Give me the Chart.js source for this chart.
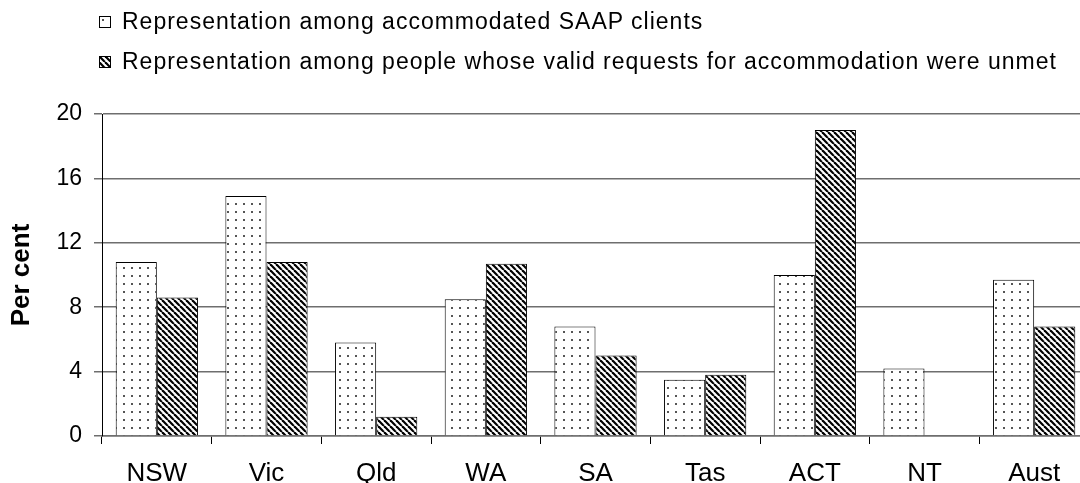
<!DOCTYPE html>
<html lang="en">
<head>
  <meta charset="UTF-8">
  <title>SAAP representation by jurisdiction</title>
  <script src="https://cdn.jsdelivr.net/npm/chart.js"></script>
  <style>
    html, body {
      margin: 0;
      padding: 0;
      background: #fff;
      overflow: hidden;
      width: 1080px;
      height: 483px;
    }
    body {
      position: relative;
      font-family: 'Liberation Sans', Arial, sans-serif;
    }
    #chart {
      position: absolute;
      left: 0;
      top: 0;
    }
    .legend-row {
      position: absolute;
      left: 99px;
      display: flex;
      align-items: center;
      font-size: 23px;
      line-height: 27px;
      letter-spacing: 1px;
      color: #000;
      white-space: nowrap;
    }
    .legend-row canvas {
      margin-right: 11px;
    }
  </style>
</head>
<body>
  <canvas id="chart" width="1092" height="483"></canvas>

  <!-- Legend (two rows, like the original) -->
  <div class="legend-row" style="top: 8px;"><canvas id="box0" width="12" height="12"></canvas><span id="lab0"></span></div>
  <div class="legend-row" style="top: 48px;"><canvas id="box1" width="12" height="12"></canvas><span id="lab1"></span></div>

  <script>
    // Data
    const states = ['NSW', 'Vic', 'Qld', 'WA', 'SA', 'Tas', 'ACT', 'NT', 'Aust'];
    const seriesNames = [
      'Representation among accommodated SAAP clients',
      'Representation among people whose valid requests for accommodation were unmet'
    ];
    const accommodated = [10.8, 14.9, 5.8, 8.5, 6.8, 3.5, 10.0, 4.2, 9.7];
    const unmet = [8.6, 10.8, 1.2, 10.7, 5.0, 3.8, 19.0, null, 6.8];
    const yTicks = [0, 4, 8, 12, 16, 20];

    Chart.defaults.font.family = "'Liberation Sans', Arial, sans-serif";
    Chart.defaults.color = '#000';

    // Fill patterns
    function dotPattern(ctx) {
      const c = document.createElement('canvas');
      c.width = 8; c.height = 8;
      const g = c.getContext('2d');
      g.fillStyle = '#fff';
      g.fillRect(0, 0, 8, 8);
      g.fillStyle = '#555';
      g.fillRect(3, 3, 2, 2);
      return ctx.createPattern(c, 'repeat');
    }

    function hatchPattern(ctx) {
      const c = document.createElement('canvas');
      c.width = 6; c.height = 6;
      const g = c.getContext('2d');
      g.fillStyle = '#fff';
      g.fillRect(0, 0, 6, 6);
      g.strokeStyle = '#000';
      g.lineWidth = 2.2;
      for (const o of [-6, 0, 6]) {
        g.beginPath();
        g.moveTo(o, 0);
        g.lineTo(o + 6, 6);
        g.stroke();
      }
      return ctx.createPattern(c, 'repeat');
    }

    const ctx = document.getElementById('chart').getContext('2d');
    const fills = [dotPattern(ctx), hatchPattern(ctx)];

    // legend boxes + labels
    [0, 1].forEach(i => {
      const b = document.getElementById('box' + i).getContext('2d');
      b.fillStyle = i === 0 ? dotPattern(b) : hatchPattern(b);
      b.fillRect(0, 0, 12, 12);
      b.strokeStyle = '#000';
      b.lineWidth = 1;
      b.strokeRect(0.5, 0.5, 11, 11);
      document.getElementById('lab' + i).textContent = seriesNames[i];
    });

    new Chart(ctx, {
      type: 'bar',
      data: {
        labels: states,
        datasets: [
          {
            label: seriesNames[0],
            data: accommodated,
            backgroundColor: fills[0],
            borderColor: '#000',
            borderWidth: 1
          },
          {
            label: seriesNames[1],
            data: unmet,
            backgroundColor: fills[1],
            borderColor: '#000',
            borderWidth: 1
          }
        ]
      },
      options: {
        responsive: false,
        animation: false,
        layout: { padding: { top: 114, right: 3, left: 0, bottom: 0 } },
        datasets: { bar: { categoryPercentage: 0.75, barPercentage: 1 } },
        plugins: {
          legend: { display: false },
          tooltip: { enabled: false }
        },
        scales: {
          x: {
            grid: { offset: true, drawOnChartArea: false, tickLength: 8, color: '#000', lineWidth: 1 },
            border: { color: '#6e6e6e', width: 1.5 },
            ticks: { font: { size: 26 }, color: '#000', padding: 14 },
            afterFit: s => { s.height = 47; }
          },
          y: {
            min: 0,
            max: 20,
            afterBuildTicks: s => { s.ticks = yTicks.map(v => ({ value: v })); },
            ticks: { font: { size: 23 }, color: '#000', padding: 12 },
            grid: { color: '#6e6e6e', lineWidth: 1.5, tickLength: 8 },
            border: { color: '#000', width: 1 },
            title: {
              display: true,
              text: 'Per cent',
              font: { size: 26, weight: 'bold' },
              color: '#000',
              padding: { top: 6, bottom: 0 }
            },
            afterFit: s => { s.width = 102; }
          }
        }
      }
    });
  </script>
</body>
</html>
